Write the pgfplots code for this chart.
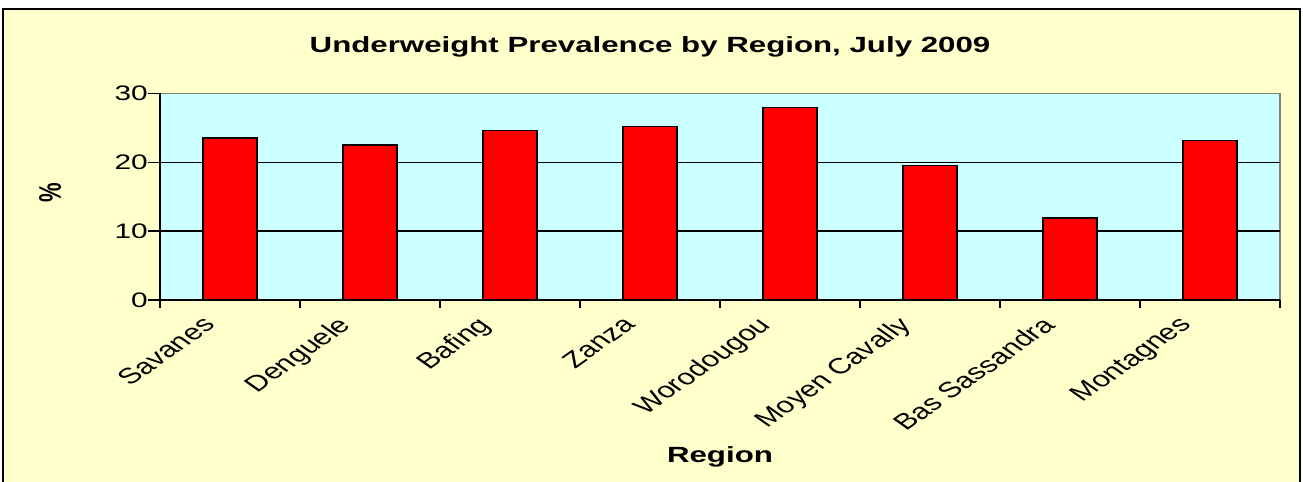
\documentclass[border=0pt]{standalone}
\usepackage{graphicx}
\usepackage{pgfplots}
\pgfplotsset{compat=1.18}
\usepackage{fontspec}
\setmainfont{Liberation Sans}[FakeStretch=1.42]
\newfontfamily\plainfont{Liberation Sans}
\definecolor{bgy}{HTML}{FFFFCC}
\definecolor{plotc}{HTML}{CCFFFF}
\newcommand\rl[1]{\scalebox{1.42}[1]{\rotatebox{45}{\plainfont\fontsize{22bp}{25bp}\selectfont #1}}}
\begin{document}
\begin{tikzpicture}[x=1bp,y=1bp]
\useasboundingbox (0,0) rectangle (1303,482);
\fill[white] (0,0) rectangle (1303,482);
\fill[bgy] (3,0) rectangle (1300,473);
\draw[black, line width=1.5bp] (3,-2) rectangle (1300,473);
\node[font=\bfseries\fontsize{22bp}{26bp}\selectfont] at (650,435) {Underweight Prevalence by Region, July 2009};
\begin{axis}[
  at={(160bp,182bp)}, anchor=south west,
  scale only axis, width=1120bp, height=206.7bp,
  xmin=-0.5, xmax=7.5, ymin=0, ymax=30,
  axis x line*=bottom, axis y line*=left,
  axis line style={black, line width=1.5bp, -},
  axis background/.style={fill=plotc, draw=gray, line width=1.2bp},
  ytick={0,10,20}, ymajorgrids, grid style={black, line width=1.2bp},
  extra y ticks={30}, extra y tick style={grid=none},
  xtick={0,...,7}, major x tick style={draw=none},
  minor xtick={-0.5,0.5,...,7.5},
  minor x tick style={black, line width=1.2bp},
  tick align=outside, major tick length=12bp, minor tick length=8bp,
  ytick style={black, line width=1.2bp},
  /pgf/number format/assume math mode=true,
  xticklabels={\rl{Savanes},\rl{Denguele},\rl{Bafing},\rl{Zanza},\rl{Worodougou},\rl{Moyen Cavally},\rl{Bas Sassandra},\rl{Montagnes}},
  xticklabel style={anchor=north east, inner sep=0pt, xshift=-13bp, yshift=-3bp},
  yticklabel style={font=\fontsize{21bp}{24bp}\selectfont, anchor=east, inner sep=0pt},
  every axis y label/.style={at={(axis description cs:-0.0982,0.52)}, anchor=center},
  every axis x label/.style={at={(axis description cs:0.5,-0.7595)}, anchor=center, font=\bfseries\fontsize{22bp}{26bp}\selectfont},
  ylabel={\scalebox{1.42}[1]{\rotatebox{90}{\plainfont\bfseries\fontsize{22bp}{26bp}\selectfont\%}}},
  xlabel={Region},
  ybar, bar width=54bp,
]
\addplot[fill=red, draw=black, line width=1.2bp] coordinates {
(0,23.5) (1,22.5) (2,24.6) (3,25.2) (4,27.9) (5,19.5) (6,11.9) (7,23.1)};
\end{axis}
\end{tikzpicture}
\end{document}
